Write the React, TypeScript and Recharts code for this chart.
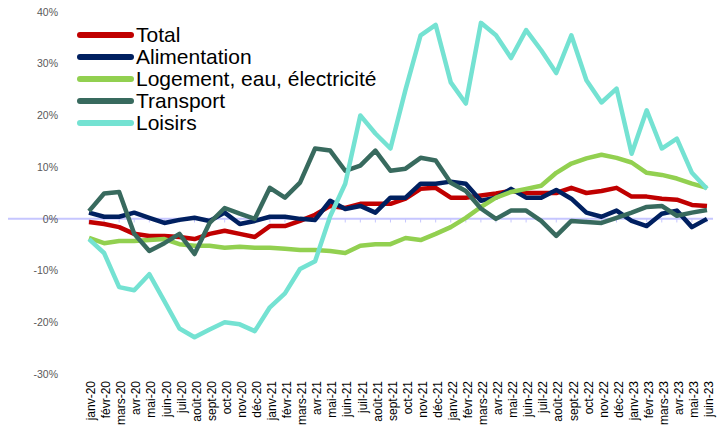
import React from 'react';
import {
  LineChart,
  Line,
  XAxis,
  YAxis,
  ReferenceLine,
} from 'recharts';

const months = [
  'janv-20', 'févr-20', 'mars-20', 'avr-20', 'mai-20', 'juin-20', 'juil-20', 'août-20', 'sept-20', 'oct-20', 'nov-20', 'déc-20',
  'janv-21', 'févr-21', 'mars-21', 'avr-21', 'mai-21', 'juin-21', 'juil-21', 'août-21', 'sept-21', 'oct-21', 'nov-21', 'déc-21',
  'janv-22', 'févr-22', 'mars-22', 'avr-22', 'mai-22', 'juin-22', 'juil-22', 'août-22', 'sept-22', 'oct-22', 'nov-22', 'déc-22',
  'janv-23', 'févr-23', 'mars-23', 'avr-23', 'mai-23', 'juin-23',
];

const total = [
  -0.6, -1.0, -1.6, -2.9, -3.3, -3.3, -3.5, -3.9, -2.9, -2.3, -2.9, -3.5,
  -1.4, -1.4, -0.4, 0.8, 2.5, 2.1, 2.9, 2.9, 2.9, 3.9, 5.8, 6.0,
  4.1, 4.1, 4.5, 4.9, 5.4, 5.0, 5.0, 5.0, 6.0, 5.0, 5.4, 6.0,
  4.3, 4.3, 3.9, 3.7, 2.7, 2.5,
];

const alimentation = [
  1.2, 0.4, 0.4, 1.2, 0.2, -0.8, -0.2, 0.2, -0.4, 1.2, -1.0, -0.4,
  0.4, 0.4, 0.0, -0.2, 3.5, 1.9, 2.5, 1.2, 4.1, 4.1, 6.8, 6.8,
  7.2, 6.8, 3.5, 4.1, 5.8, 4.1, 4.1, 5.6, 3.9, 1.2, 0.4, 1.6,
  -0.4, -1.4, 1.0, 1.6, -1.6, 0.0,
];

const logement = [
  -3.7, -4.7, -4.3, -4.3, -4.1, -3.9, -4.9, -5.2, -5.2, -5.6, -5.4, -5.6,
  -5.6, -5.8, -6.0, -6.0, -6.2, -6.6, -5.2, -4.9, -4.9, -3.7, -4.1, -2.9,
  -1.6, 0.2, 2.3, 4.1, 5.2, 5.8, 6.4, 8.9, 10.7, 11.7, 12.4, 11.8,
  10.9, 8.9, 8.5, 7.8, 6.8, 6.0,
];

const transport = [
  1.5, 4.9, 5.2, -2.9, -6.2, -4.7, -2.9, -6.8, -0.8, 2.1, 1.0, 0.0,
  6.0, 4.1, 7.0, 13.6, 13.2, 9.3, 10.3, 13.2, 9.3, 9.7, 11.8, 11.3,
  7.0, 5.4, 2.0, 0.0, 1.6, 1.6, -0.4, -3.3, -0.4, -0.6, -0.8, 0.2,
  1.2, 2.3, 2.5, 0.6, 1.2, 1.7,
];

const loisirs = [
  -3.9, -6.6, -13.2, -13.8, -10.7, -15.9, -21.2, -22.9, -21.4, -20.0, -20.4, -21.7,
  -17.1, -14.4, -9.7, -8.2, 0.5, 6.8, 20.0, 16.5, 13.6, 25.0, 35.5, 37.5,
  26.4, 22.3, 37.9, 35.5, 31.1, 36.5, 32.6, 28.2, 35.5, 26.8, 22.5, 25.2,
  12.6, 21.0, 13.6, 15.5, 8.9, 5.8,
];

const yTicks = [-30, -20, -10, 0, 10, 20, 30, 40];

const series = [
  { key: 'total', name: 'Total', color: '#c00000' },
  { key: 'alimentation', name: 'Alimentation', color: '#002060' },
  { key: 'logement', name: 'Logement, eau, électricité', color: '#92d050' },
  { key: 'transport', name: 'Transport', color: '#386a5e' },
  { key: 'loisirs', name: 'Loisirs', color: '#74e2d2' },
];

const data = months.map((m, i) => ({
  month: m,
  total: total[i],
  alimentation: alimentation[i],
  logement: logement[i],
  transport: transport[i],
  loisirs: loisirs[i],
}));

const AXIS_COLOR = '#c6c6ff';

function YTick({ x, y, payload }: any) {
  return (
    <text
      x={x + 50}
      y={y}
      dy="0.35em"
      textAnchor="end"
      fontSize={10.5}
      fill="#595959"
      fontFamily="'Liberation Sans', Arial, sans-serif"
    >
      {`${payload.value}%`}
    </text>
  );
}

function XTick({ x, y, payload }: any) {
  return (
    <text
      x={x + 2}
      y={y}
      dy="0.35em"
      textAnchor="end"
      transform={`rotate(-90, ${x + 2}, ${y})`}
      fontSize={12}
      fill="#000"
      fontFamily="'Liberation Sans', Arial, sans-serif"
    >
      {payload.value}
    </text>
  );
}

function LegendBox() {
  return (
    <div
      style={{
        position: 'absolute',
        left: 77,
        top: 24,
        fontFamily: "'Liberation Sans', Arial, sans-serif",
      }}
    >
      {series.map((s) => (
        <div
          key={s.key}
          style={{ display: 'flex', alignItems: 'center', height: 22 }}
        >
          <svg width={57} height={8}>
            <line
              x1={3}
              y1={4}
              x2={54}
              y2={4}
              stroke={s.color}
              strokeWidth={6}
              strokeLinecap="round"
            />
          </svg>
          <span style={{ fontSize: 21, lineHeight: '22px', marginLeft: 2, color: '#000' }}>
            {s.name}
          </span>
        </div>
      ))}
    </div>
  );
}

export default function App() {
  return (
    <div style={{ position: 'absolute', left: 0, top: 0, width: 728, height: 430 }}>
      <LineChart
        width={728}
        height={430}
        data={data}
        margin={{ top: 12, right: 15, bottom: 0, left: 0 }}
      >
        <XAxis
          dataKey="month"
          interval={0}
          height={56}
          padding={{ left: 81, right: 6 }}
          axisLine={false}
          tickLine={false}
          tickSize={0}
          tickMargin={7}
          tick={<XTick />}
        />
        <YAxis
          width={8}
          domain={[-30, 40]}
          ticks={yTicks}
          interval={0}
          axisLine={false}
          tickLine={false}
          tickSize={0}
          tickMargin={0}
          tick={<YTick />}
        />
        <ReferenceLine y={0} stroke={AXIS_COLOR} strokeWidth={2} />
        {months.map((m) => (
          <ReferenceLine
            key={m}
            segment={[{ x: m, y: 0 }, { x: m, y: -0.7 }]}
            stroke={AXIS_COLOR}
            strokeWidth={1}
          />
        ))}
        {series.map((s) => (
          <Line
            key={s.key}
            type="linear"
            dataKey={s.key}
            name={s.name}
            stroke={s.color}
            strokeWidth={4.5}
            strokeLinejoin="round"
            dot={false}
            activeDot={false}
            isAnimationActive={false}
          />
        ))}
      </LineChart>
      <LegendBox />
    </div>
  );
}
